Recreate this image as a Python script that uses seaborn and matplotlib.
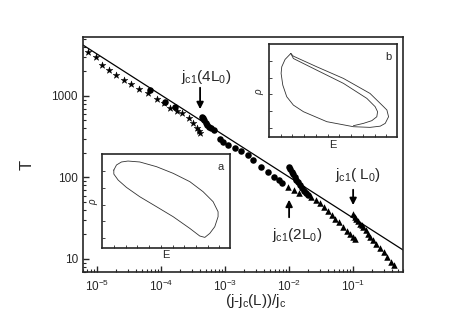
import numpy as np
import pandas as pd
import matplotlib
matplotlib.use('Agg')
import matplotlib.pyplot as plt
import seaborn as sns

# main data: T vs reduced current
star_x = [7.1e-6, 9.5e-6, 1.2e-5, 1.55e-5, 2.0e-5, 2.6e-5, 3.4e-5, 4.6e-5, 6.2e-5,
          8.5e-5, 1.1e-4, 1.4e-4, 1.75e-4, 2.1e-4, 2.7e-4, 3.2e-4, 3.6e-4, 3.9e-4, 4.1e-4]
star_T = [3490, 3000, 2380, 2090, 1820, 1590, 1390, 1230, 1080,
          930, 820, 710, 660, 615, 540, 460, 400, 370, 350]

circ_x = [6.6e-5, 1.15e-4, 1.65e-4, 4.3e-4, 4.5e-4, 4.75e-4, 5.0e-4, 5.3e-4, 5.6e-4,
          6.0e-4, 6.6e-4, 8.3e-4, 9.3e-4, 1.12e-3, 1.45e-3, 1.8e-3, 2.3e-3, 2.75e-3,
          3.7e-3, 4.6e-3, 5.8e-3, 7.0e-3, 7.8e-3,
          1.01e-2, 1.05e-2, 1.1e-2, 1.16e-2, 1.22e-2, 1.3e-2, 1.38e-2, 1.47e-2,
          1.57e-2, 1.7e-2, 1.85e-2, 2.0e-2]
circ_T = [1170, 850, 730, 557, 530, 500, 470, 445, 420,
          400, 383, 300, 275, 251, 229, 209, 189, 164,
          135, 118, 102, 92, 85,
          136, 127, 118, 110, 102, 94, 87, 80,
          74, 68, 64, 61]

tri_x = [9.5e-3, 1.2e-2, 1.45e-2, 2.2e-2, 2.6e-2, 3.0e-2, 3.5e-2, 4.0e-2, 4.6e-2, 5.3e-2,
         6.0e-2, 7.0e-2, 8.0e-2, 9.0e-2, 0.1, 0.107,
         0.101, 0.106, 0.112, 0.119, 0.127, 0.136, 0.145, 0.158, 0.172, 0.185,
         0.205, 0.23, 0.263, 0.3, 0.34, 0.39, 0.43]
tri_T = [76, 70, 64, 57, 53, 48, 43, 39, 35, 31,
         28, 25, 22, 20, 18.5, 17.5,
         36, 33, 31, 29, 27, 26, 24.9, 22.5, 20.5, 18.7,
         17, 15.3, 13.6, 12, 10.5, 9.3, 8.4]

fit_x = [6.0e-6, 0.6]
fit_T = [4230, 12.9]

# inset curves (normalised E, rho)
loop_a_E = [0.089, 0.11, 0.149, 0.20, 0.293, 0.424, 0.555, 0.686, 0.79, 0.869, 0.908,
            0.908, 0.882, 0.843, 0.804, 0.764, 0.686, 0.555, 0.424, 0.293, 0.188,
            0.123, 0.089, 0.089]
loop_a_rho = [0.829, 0.883, 0.915, 0.925, 0.915, 0.865, 0.794, 0.705, 0.598, 0.491, 0.384,
              0.331, 0.224, 0.153, 0.11, 0.125, 0.206, 0.331, 0.438, 0.544, 0.644,
              0.722, 0.786, 0.829]

loop_b1_E = [0.17, 0.125, 0.099, 0.094, 0.107, 0.138, 0.19, 0.269, 0.452, 0.66, 0.79,
             0.87, 0.909, 0.935, 0.922, 0.896, 0.79, 0.582, 0.373, 0.19, 0.17]
loop_b1_rho = [0.90, 0.836, 0.757, 0.686, 0.561, 0.436, 0.346, 0.275, 0.168, 0.114, 0.107,
               0.12, 0.15, 0.221, 0.293, 0.329, 0.471, 0.632, 0.757, 0.871, 0.90]
loop_b2_E = [0.17, 0.19, 0.373, 0.582, 0.765, 0.83, 0.849, 0.843, 0.804, 0.739, 0.66]
loop_b2_rho = [0.90, 0.846, 0.721, 0.579, 0.418, 0.329, 0.275, 0.221, 0.179, 0.15, 0.125]

sns.set_style('ticks')
plt.rcParams['font.family'] = ['Liberation Sans', 'DejaVu Sans']
plt.rcParams['mathtext.fontset'] = 'custom'
plt.rcParams['mathtext.rm'] = 'Liberation Sans'
plt.rcParams['mathtext.it'] = 'Liberation Sans:italic'
plt.rcParams['axes.linewidth'] = 1.2

fig = plt.figure(figsize=(4.68, 3.27), dpi=100)
ax = fig.add_axes([0.177, 0.168, 0.684, 0.719])

sns.lineplot(x=fit_x, y=fit_T, ax=ax, color='black', lw=0.9)
sns.scatterplot(x=star_x, y=star_T, ax=ax, marker='*', s=26, color='black',
                edgecolor='black', linewidth=0.3)
sns.scatterplot(x=circ_x, y=circ_T, ax=ax, marker='o', s=22, color='black',
                edgecolor='black', linewidth=0)
sns.scatterplot(x=tri_x, y=tri_T, ax=ax, marker='^', s=22, color='black',
                edgecolor='black', linewidth=0)

ax.set_xscale('log')
ax.set_yscale('log')
ax.set_xlim(6.0e-6, 0.6)
ax.set_ylim(6.9, 5300)
ax.set_yticks([10, 100, 1000])
ax.set_yticklabels(['10', '100', '1000'])
ax.tick_params(which='both', direction='in', top=False, right=False, labelsize=8.5)
ax.tick_params(which='major', length=4, width=1)
ax.tick_params(which='minor', length=2, width=0.8)
ax.tick_params(axis='x', pad=5)
ax.set_xlabel(r'$\mathregular{(j\text{-}j_c(L))/j_c}$', fontsize=11)
ax.set_ylabel('T', fontsize=12)
ax.xaxis.set_label_coords(0.54, -0.085)
ax.yaxis.set_label_coords(-0.15, 0.455)

arrow = dict(arrowstyle='-|>', color='black', lw=1.3, mutation_scale=10)
ax.annotate('', xy=(4.07e-4, 636), xytext=(4.07e-4, 1365), arrowprops=arrow)
ax.text(5.0e-4, 1710, r'$\mathregular{j_{c1}(4L_0)}$', fontsize=11, ha='center', va='center')
ax.annotate('', xy=(1.0e-2, 57.7), xytext=(1.0e-2, 30), arrowprops=arrow)
ax.text(1.33e-2, 19.7, r'$\mathregular{j_{c1}(2L_0)}$', fontsize=11, ha='center', va='center')
ax.annotate('', xy=(0.1, 42.3), xytext=(0.1, 76.4), arrowprops=arrow)
ax.text(0.12, 107, r'$\mathregular{j_{c1}(\ L_0)}$', fontsize=11, ha='center', va='center')

def inset(rect, curves, tag):
    ia = fig.add_axes(rect)
    for E, rho in curves:
        sns.lineplot(x=E, y=rho, ax=ia, sort=False, color='#333333', lw=0.6, estimator=None)
    ia.set_xlim(0, 1)
    ia.set_ylim(0, 1)
    ia.set_xticks(np.arange(0.09, 1.0, 0.092))
    ia.set_yticks(np.arange(0.1, 1.0, 0.18))
    ia.tick_params(direction='in', length=2, width=0.6, labelleft=False, labelbottom=False)
    ia.set_xlabel('E', fontsize=8, labelpad=2)
    ia.set_ylabel(r'$\rho$', fontsize=7, labelpad=2)
    ia.text(0.93, 0.86, tag, fontsize=8, ha='center', va='center', transform=ia.transAxes)
    return ia

inset([0.219, 0.2425, 0.272, 0.2865], [(loop_a_E, loop_a_rho)], 'a')
inset([0.575, 0.580, 0.273, 0.285], [(loop_b1_E, loop_b1_rho), (loop_b2_E, loop_b2_rho)], 'b')

plt.savefig('out.png', dpi=100)
